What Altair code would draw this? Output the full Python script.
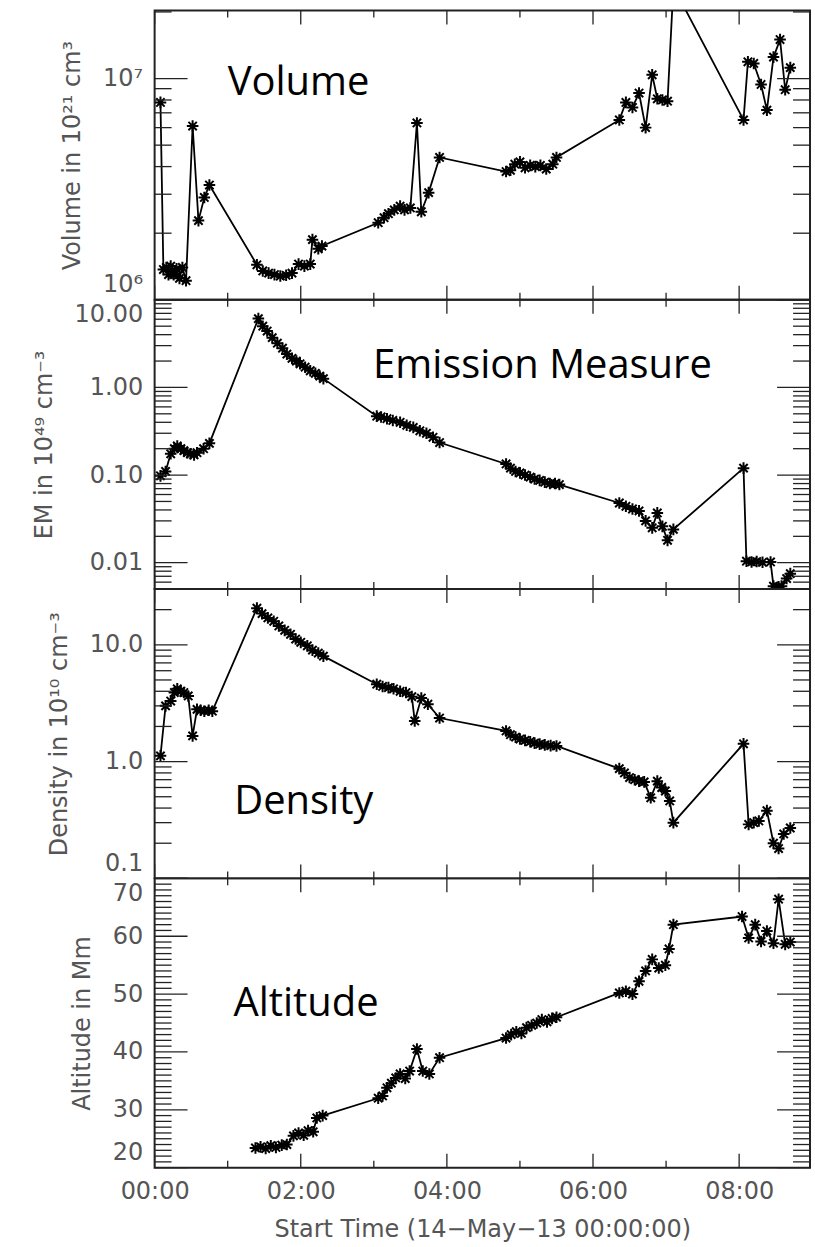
import altair as alt
import pandas as pd

W, H = 657, 290

# ---------------- data (hours after 14-May-13 00:00) ----------------
vol_time = [0.08, 0.12, 0.16, 0.19, 0.22, 0.26, 0.30, 0.34, 0.38, 0.43, 0.52, 0.60, 0.68, 0.75,
            1.40, 1.48, 1.56, 1.64, 1.72, 1.80, 1.88, 1.97, 2.05, 2.13, 2.16, 2.24, 2.29,
            3.06, 3.14, 3.20, 3.28, 3.36, 3.42, 3.50, 3.59, 3.65, 3.75, 3.90,
            4.81, 4.87, 4.93, 5.00, 5.07, 5.14, 5.21, 5.28, 5.36, 5.45, 5.50,
            6.36, 6.45, 6.54, 6.63, 6.72, 6.81, 6.88, 6.95, 7.02, 7.10,
            8.06, 8.12, 8.20, 8.30, 8.38, 8.47, 8.56, 8.63, 8.70]
vol_value = [7.8e6, 1.37e6, 1.4e6, 1.3e6, 1.42e6, 1.3e6, 1.38e6, 1.25e6, 1.4e6, 1.22e6, 6.1e6, 2.28e6, 2.9e6, 3.3e6,
             1.44e6, 1.35e6, 1.32e6, 1.3e6, 1.28e6, 1.29e6, 1.32e6, 1.45e6, 1.42e6, 1.45e6, 1.87e6, 1.7e6, 1.75e6,
             2.23e6, 2.35e6, 2.45e6, 2.55e6, 2.65e6, 2.55e6, 2.6e6, 6.3e6, 2.5e6, 3.05e6, 4.4e6,
             3.8e6, 3.85e6, 4.1e6, 4.2e6, 3.95e6, 4.05e6, 4.0e6, 4.05e6, 3.9e6, 4.1e6, 4.4e6,
             6.5e6, 7.8e6, 7.4e6, 8.6e6, 6.0e6, 1.04e7, 8.1e6, 8.0e6, 7.9e6, 2.6e7,
             6.5e6, 1.19e7, 1.17e7, 9.4e6, 7.2e6, 1.25e7, 1.5e7, 8.9e6, 1.12e7]

em_time = [0.08, 0.15, 0.22, 0.27, 0.31, 0.36, 0.40, 0.45, 0.49, 0.54, 0.58, 0.67, 0.75,
           1.42, 1.48, 1.54, 1.61, 1.68, 1.75, 1.81, 1.88, 1.94, 1.99, 2.06, 2.13, 2.20, 2.26, 2.31,
           3.04, 3.10, 3.18, 3.26, 3.36, 3.45, 3.54, 3.63, 3.72, 3.81, 3.90,
           4.81, 4.87, 4.94, 5.00, 5.07, 5.14, 5.20, 5.27, 5.34, 5.41, 5.48, 5.54,
           6.36, 6.45, 6.54, 6.63, 6.72, 6.81, 6.88, 6.95, 7.02, 7.10,
           8.06, 8.10, 8.17, 8.24, 8.32, 8.43, 8.47, 8.54, 8.58, 8.65, 8.70]
em_value = [0.098, 0.11, 0.175, 0.2, 0.215, 0.2, 0.19, 0.18, 0.175, 0.17, 0.18, 0.2, 0.23,
            6.1, 5.0, 4.4, 3.7, 3.2, 2.8, 2.4, 2.15, 2.0, 1.86, 1.7, 1.55, 1.45, 1.35, 1.26,
            0.47, 0.46, 0.44, 0.42, 0.40, 0.37, 0.35, 0.32, 0.30, 0.27, 0.235,
            0.134, 0.12, 0.11, 0.106, 0.1, 0.095, 0.09, 0.087, 0.083, 0.08, 0.08, 0.078,
            0.048, 0.044, 0.041, 0.039, 0.03, 0.025, 0.037, 0.026, 0.018, 0.024,
            0.12, 0.0104, 0.0102, 0.0103, 0.0101, 0.0102, 0.0054, 0.0053, 0.0054, 0.0066, 0.0075]

den_time = [0.08, 0.15, 0.22, 0.27, 0.31, 0.36, 0.40, 0.46, 0.52, 0.58, 0.63, 0.68, 0.74, 0.79,
            1.40, 1.47, 1.55, 1.63, 1.70, 1.78, 1.86, 1.93, 2.00, 2.09, 2.16, 2.24, 2.31,
            3.04, 3.12, 3.20, 3.27, 3.36, 3.44, 3.52, 3.56, 3.65, 3.74, 3.90,
            4.81, 4.87, 4.94, 5.00, 5.07, 5.14, 5.20, 5.27, 5.34, 5.42, 5.50,
            6.36, 6.43, 6.50, 6.57, 6.63, 6.70, 6.79, 6.88, 6.94, 6.99, 7.05, 7.10,
            8.06, 8.13, 8.20, 8.27, 8.38, 8.47, 8.54, 8.61, 8.70]
den_value = [1.12, 3.0, 3.3, 3.9, 4.2, 4.0, 3.9, 3.65, 1.66, 2.8, 2.75, 2.7, 2.75, 2.7,
             20.6, 18.5, 17.0, 15.9, 14.5, 13.3, 12.3, 11.2, 10.5, 9.8, 9.0, 8.5, 8.0,
             4.6, 4.4, 4.3, 4.2, 4.0, 3.9, 3.6, 2.23, 3.5, 3.1, 2.36,
             1.83, 1.7, 1.62, 1.56, 1.52, 1.48, 1.44, 1.41, 1.39, 1.37, 1.36,
             0.87, 0.8, 0.73, 0.7, 0.68, 0.67, 0.49, 0.68, 0.6, 0.56, 0.46, 0.30,
             1.42, 0.29, 0.3, 0.31, 0.38, 0.2, 0.18, 0.24, 0.27]

alt_time = [1.38, 1.45, 1.52, 1.59, 1.66, 1.74, 1.81, 1.90, 1.97, 2.04, 2.10, 2.17, 2.22, 2.30,
            3.06, 3.12, 3.18, 3.24, 3.30, 3.36, 3.43, 3.49, 3.59, 3.67, 3.76, 3.90,
            4.81, 4.88, 4.95, 5.02, 5.09, 5.16, 5.23, 5.30, 5.37, 5.44, 5.50,
            6.36, 6.45, 6.54, 6.63, 6.72, 6.81, 6.90, 6.99, 7.04, 7.10,
            8.04, 8.13, 8.22, 8.30, 8.38, 8.47, 8.54, 8.63, 8.70]
alt_value = [23.4, 23.6, 23.3, 23.8, 23.5, 23.9, 24.0, 25.5, 26.0, 25.6, 26.4, 26.2, 28.6, 29.0,
             32.0, 32.4, 33.8, 34.6, 35.5, 36.2, 35.4, 36.7, 40.5, 36.7, 36.2, 39.0,
             42.4, 43.0, 43.5, 43.2, 44.2, 44.6, 45.0, 45.6, 45.2, 45.8, 46.0,
             50.2, 50.5, 50.0, 52.2, 54.0, 56.0, 54.5, 55.0, 57.8, 62.0,
             63.4, 59.7, 62.0, 59.1, 60.9, 58.8, 66.4, 58.6, 59.0]

# in-panel annotations: text, time (h), value (left/baseline anchor)
label_text = ["Volume", "Emission Measure", "Density", "Altitude"]
label_time = [1.00, 2.99, 1.09, 1.08]
label_value = [8.4e6, 1.29, 0.357, 46.2]

# axes
x_domain = [0, 8.97]
x_major = [0, 2, 4, 6, 8]
x_minor = [1, 3, 5, 7]

vol_domain = [1e6, 2.03e7]
vol_major = [1e6, 1e7]
vol_minor = [2e6, 3e6, 4e6, 5e6, 6e6, 7e6, 8e6, 9e6, 2e7]

em_domain = [0.005, 10]
em_major = [0.01, 0.1, 1, 10]
em_minor = [0.006, 0.007, 0.008, 0.009,
            0.02, 0.03, 0.04, 0.05, 0.06, 0.07, 0.08, 0.09,
            0.2, 0.3, 0.4, 0.5, 0.6, 0.7, 0.8, 0.9,
            2, 3, 4, 5, 6, 7, 8, 9]

den_domain = [0.1, 30]
den_major = [0.1, 1, 10]
den_minor = [0.2, 0.3, 0.4, 0.5, 0.6, 0.7, 0.8, 0.9,
             2, 3, 4, 5, 6, 7, 8, 9, 20]

alt_domain = [20, 70]
alt_major = [20, 30, 40, 50, 60, 70]
alt_minor = [v for v in range(21, 70) if v % 10 != 0]

ASTERISK = "M-1,0L1,0M0,-1L0,1M-0.72,-0.72L0.72,0.72M-0.72,0.72L0.72,-0.72"
GREY = "#555555"
AXFONT = "DejaVu Sans"

xscale = alt.Scale(domain=x_domain, nice=False, zero=False)


def panel(times, values, yscale, yaxis, idx, y_major, y_minor, bottom):
    if bottom:
        xaxis = alt.Axis(values=x_major, labelExpr="'0' + datum.value + ':00'",
                         title="Start Time (14\u2212May\u221213 00:00:00)",
                         ticks=False, domain=False, grid=False, labelFlush=False,
                         labelColor=GREY, labelFont=AXFONT, labelFontSize=24,
                         labelPadding=12, titleColor=GREY, titleFont=AXFONT,
                         titleFontSize=24, titleFontWeight="normal", titlePadding=14)
    else:
        xaxis = alt.Axis(values=x_major, labels=False, ticks=False, domain=False,
                         grid=False, title=None)
    x = alt.X("t:Q", scale=xscale, axis=xaxis)
    y = alt.Y("v:Q", scale=yscale, axis=yaxis)

    df = pd.DataFrame({"t": times, "v": values})
    base = alt.Chart(df)
    line = base.mark_line(color="black", strokeWidth=1.8, clip=True).encode(x=x, y=y)
    pts = base.mark_point(shape=ASTERISK, size=135, color="black", filled=False,
                          strokeWidth=2, opacity=1, clip=True).encode(x=x, y=y)
    lab = pd.DataFrame({"t": [label_time[idx]], "v": [label_value[idx]], "label": [label_text[idx]]})
    text = alt.Chart(lab).mark_text(align="left", baseline="alphabetic", font="Open Sans",
                                    fontSize=40, color="black").encode(x=x, y=y, text="label:N")
    layers = [line, pts, text]

    for vals, length in ((y_major, 33), (y_minor, 17)):
        d = alt.Chart(pd.DataFrame({"v": vals}))
        layers.append(d.mark_rule(color="#222", strokeWidth=1.3).encode(
            y=y, x=alt.value(0), x2=alt.value(length)))
        layers.append(d.mark_rule(color="#222", strokeWidth=1.3).encode(
            y=y, x=alt.value(W - length), x2=alt.value(W)))
    for vals, length in ((x_major, 14), (x_minor, 7)):
        d = alt.Chart(pd.DataFrame({"t": vals}))
        layers.append(d.mark_rule(color="#222", strokeWidth=1.3).encode(
            x=x, y=alt.value(0), y2=alt.value(length)))
        layers.append(d.mark_rule(color="#222", strokeWidth=1.3).encode(
            x=x, y=alt.value(H - length), y2=alt.value(H)))
    return alt.layer(*layers).properties(width=W, height=H)


def yaxis(values, title, fmt=None, expr=None):
    kw = dict(values=values, title=title, ticks=False, domain=False, grid=False,
              labelColor=GREY, labelFont=AXFONT, labelFontSize=24, labelPadding=12,
              labelOverlap=False, labelFlush=True, labelFlushOffset=-3,
              titleColor=GREY, titleFont=AXFONT,
              titleFontSize=24, titleFontWeight="normal", titlePadding=18)
    if fmt:
        kw["format"] = fmt
    if expr:
        kw["labelExpr"] = expr
    return alt.Axis(**kw)


p1 = panel(vol_time, vol_value, alt.Scale(type="log", domain=vol_domain, nice=False),
           yaxis(vol_major, "Volume in 10\u00b2\u00b9 cm\u00b3",
                 expr="datum.value < 5000000 ? '10\u2076' : '10\u2077'"),
           0, vol_major, vol_minor, False)
p2 = panel(em_time, em_value, alt.Scale(type="log", domain=em_domain, nice=False),
           yaxis(em_major, "EM in 10\u2074\u2079 cm\u207b\u00b3", fmt=".2f"),
           1, em_major, em_minor, False)
p3 = panel(den_time, den_value, alt.Scale(type="log", domain=den_domain, nice=False),
           yaxis(den_major, "Density in 10\u00b9\u2070 cm\u207b\u00b3", fmt=".1f"),
           2, den_major, den_minor, False)
p4 = panel(alt_time, alt_value, alt.Scale(type="linear", domain=alt_domain, nice=False, zero=False),
           yaxis(alt_major, "Altitude in Mm", fmt="d"),
           3, alt_major, alt_minor, True)

chart = alt.vconcat(p1, p2, p3, p4, spacing=0, bounds="flush").properties(
    padding={"left": 31, "top": 7, "right": 3, "bottom": 4},
    background="white",
).configure_view(stroke="#222", strokeWidth=2)

chart.save("out.html", embed_options={"renderer": "svg", "actions": False})
